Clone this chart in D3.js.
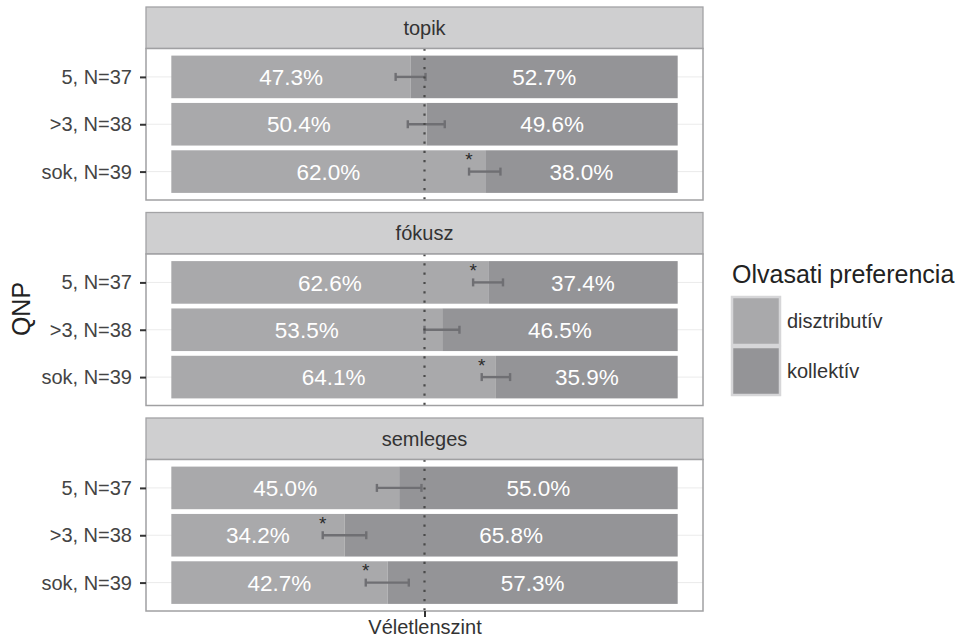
<!DOCTYPE html>
<html>
<head>
<meta charset="utf-8">
<script src="https://cdn.jsdelivr.net/npm/d3@7"></script>
<style>
  body { margin: 0; background: #ffffff; }
  svg { display: block; font-family: "Liberation Sans", Arial, Helvetica, sans-serif; }
</style>
</head>
<body>
<svg id="chart" width="966" height="639"></svg>
<script>
// Facets (discourse condition) and QNP levels, top to bottom
const facets = ["topik", "fókusz", "semleges"];
const qnpLevels = ["5, N=37", ">3, N=38", "sok, N=39"];
const seriesNames = ["disztributív", "kollektív"];

// Share of readings (%), one inner array per facet, in qnpLevels order
const distributivePct = [[47.3, 50.4, 62.0], [62.6, 53.5, 64.1], [45.0, 34.2, 42.7]];
const collectivePct   = [[52.7, 49.6, 38.0], [37.4, 46.5, 35.9], [55.0, 65.8, 57.3]];

// Interval around the distributive share (%)
const ciLow  = [[44.3, 46.7, 58.8], [59.6, 50.0, 61.3], [40.6, 29.9, 38.4]];
const ciHigh = [[50.2, 54.0, 65.0], [65.5, 56.9, 66.9], [49.4, 38.5, 46.9]];
const significant = [[false, false, true], [true, false, true], [false, true, true]];

// Chance level reference
const chanceLevel = 50;
const chanceLabel = "Véletlenszint";

const colors = { "disztributív": "#a9a9ab", "kollektív": "#949497" };

const svg = d3.select("#chart");

const left = 146, right = 703;
const firstTop = 7, stride = 205.5, stripH = 41.5, bodyH = 151.5;

const x = d3.scaleLinear().domain([-5, 105]).range([left, right]);
const color = d3.scaleOrdinal().domain(seriesNames).range(seriesNames.map(s => colors[s]));

facets.forEach((facet, fi) => {
  const top = firstTop + fi * stride;
  const bodyTop = top + stripH;
  const bodyBottom = bodyTop + bodyH;

  const y = d3.scalePoint().domain(qnpLevels).range([bodyTop, bodyBottom]).padding(0.6);
  const barH = y.step() * 0.9;

  const g = svg.append("g");

  // strip
  g.append("rect")
    .attr("x", left).attr("y", top).attr("width", right - left).attr("height", stripH)
    .attr("fill", "#cfcfd0").attr("stroke", "#a3a3a5").attr("stroke-width", 1.3);
  g.append("text")
    .attr("x", (left + right) / 2).attr("y", top + stripH / 2)
    .attr("dy", "0.35em").attr("text-anchor", "middle")
    .attr("font-size", 20).attr("fill", "#333")
    .text(facet);

  // panel background + grid
  g.append("rect")
    .attr("x", left).attr("y", bodyTop).attr("width", right - left).attr("height", bodyH)
    .attr("fill", "#fff");
  g.selectAll("line.grid").data(qnpLevels).join("line")
    .attr("class", "grid")
    .attr("x1", left).attr("x2", right)
    .attr("y1", d => y(d)).attr("y2", d => y(d))
    .attr("stroke", "#ebebeb").attr("stroke-width", 1);

  // stacked bars
  const rows = qnpLevels.map((q, i) => ({
    q, i,
    dist: distributivePct[fi][i],
    coll: collectivePct[fi][i],
    lo: ciLow[fi][i], hi: ciHigh[fi][i],
    sig: significant[fi][i]
  }));

  const segs = [];
  rows.forEach(r => {
    segs.push({ q: r.q, series: "disztributív", x0: 0, x1: r.dist, v: r.dist });
    segs.push({ q: r.q, series: "kollektív", x0: r.dist, x1: r.dist + r.coll, v: r.coll });
  });

  g.selectAll("rect.bar").data(segs).join("rect")
    .attr("class", "bar")
    .attr("x", d => x(d.x0)).attr("width", d => x(d.x1) - x(d.x0))
    .attr("y", d => y(d.q) - barH / 2).attr("height", barH)
    .attr("fill", d => color(d.series));

  g.selectAll("text.val").data(segs).join("text")
    .attr("class", "val")
    .attr("x", d => x((d.x0 + d.x1) / 2)).attr("y", d => y(d.q))
    .attr("dy", "0.36em").attr("text-anchor", "middle")
    .attr("font-size", 22.5).attr("fill", "#ffffff")
    .text(d => d.v.toFixed(1) + "%");

  // error bars
  const eb = g.selectAll("g.eb").data(rows).join("g").attr("class", "eb")
    .attr("stroke", "#6f6f73").attr("stroke-width", 2.4);
  eb.append("line")
    .attr("x1", d => x(d.lo)).attr("x2", d => x(d.hi))
    .attr("y1", d => y(d.q)).attr("y2", d => y(d.q));
  eb.append("line")
    .attr("x1", d => x(d.lo)).attr("x2", d => x(d.lo))
    .attr("y1", d => y(d.q) - 4).attr("y2", d => y(d.q) + 4);
  eb.append("line")
    .attr("x1", d => x(d.hi)).attr("x2", d => x(d.hi))
    .attr("y1", d => y(d.q) - 4).attr("y2", d => y(d.q) + 4);

  // significance markers
  g.selectAll("text.sig").data(rows.filter(r => r.sig)).join("text")
    .attr("class", "sig")
    .attr("x", d => x(d.lo)).attr("y", d => y(d.q) - 5.5)
    .attr("text-anchor", "middle")
    .attr("font-size", 19).attr("fill", "#2b2b2b")
    .text("*");

  // chance line
  g.append("line")
    .attr("x1", x(chanceLevel)).attr("x2", x(chanceLevel))
    .attr("y1", bodyTop).attr("y2", bodyBottom)
    .attr("stroke", "#4a4a4a").attr("stroke-width", 2.2)
    .attr("stroke-dasharray", "2.2 7.1");

  // panel border
  g.append("rect")
    .attr("x", left).attr("y", bodyTop).attr("width", right - left).attr("height", bodyH)
    .attr("fill", "none").attr("stroke", "#a0a0a2").attr("stroke-width", 1.5);

  // y axis
  const yAxis = svg.append("g")
    .attr("transform", `translate(${left},0)`)
    .call(d3.axisLeft(y).tickSize(6).tickPadding(8));
  yAxis.select(".domain").remove();
  yAxis.selectAll(".tick line").attr("stroke", "#333").attr("stroke-width", 2);
  yAxis.selectAll(".tick text").attr("font-size", 20).attr("fill", "#444")
    .attr("font-family", "Liberation Sans, Arial, sans-serif");

  if (fi === facets.length - 1) {
    const xAxis = svg.append("g")
      .attr("transform", `translate(0,${bodyBottom})`)
      .call(d3.axisBottom(x).tickValues([chanceLevel]).tickFormat(() => chanceLabel)
        .tickSize(6).tickPadding(3));
    xAxis.select(".domain").remove();
    xAxis.selectAll(".tick line").attr("stroke", "#333").attr("stroke-width", 2);
    xAxis.selectAll(".tick text").attr("font-size", 20).attr("fill", "#333")
      .attr("font-family", "Liberation Sans, Arial, sans-serif");
  }
});

// y axis title
svg.append("text")
  .attr("transform", `translate(29.5,${(firstTop + 2 * stride + stripH + bodyH + firstTop) / 2}) rotate(-90)`)
  .attr("text-anchor", "middle")
  .attr("font-size", 25).attr("fill", "#222")
  .text("QNP");

// legend
const legend = svg.append("g").attr("transform", "translate(731,0)");
legend.append("text")
  .attr("x", 1).attr("y", 283)
  .attr("font-size", 25).attr("fill", "#222")
  .text("Olvasati preferencia");
const keyTop = 296, keySize = 50;
const items = legend.selectAll("g.item").data(seriesNames).join("g")
  .attr("class", "item")
  .attr("transform", (d, i) => `translate(0,${keyTop + i * keySize})`);
items.append("rect")
  .attr("x", 1).attr("y", 1).attr("width", keySize - 2).attr("height", keySize - 2)
  .attr("fill", d => color(d)).attr("stroke", "#d6d6d8").attr("stroke-width", 2.5);
items.append("text")
  .attr("x", 56).attr("y", keySize / 2).attr("dy", "0.35em")
  .attr("font-size", 20).attr("fill", "#333")
  .text(d => d);
</script>
</body>
</html>
